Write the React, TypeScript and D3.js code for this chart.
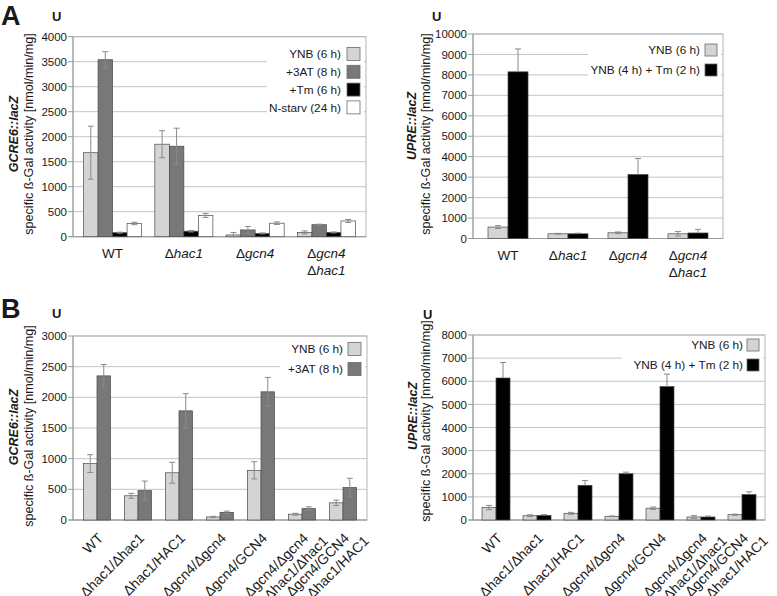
import React from "react";
import * as d3 from "d3";

const FONT = "'Liberation Sans', Arial, sans-serif";

// ---------- DATA ----------
const panelACategories = [["WT"], ["Δhac1"], ["Δgcn4"], ["Δgcn4", "Δhac1"]];
const panelBCategories = [
  ["WT"],
  ["Δhac1/Δhac1"],
  ["Δhac1/HAC1"],
  ["Δgcn4/Δgcn4"],
  ["Δgcn4/GCN4"],
  ["Δgcn4/Δgcn4", "Δhac1/Δhac1"],
  ["Δgcn4/GCN4", "Δhac1/HAC1"],
];

const aLeftSeries = ["YNB (6 h)", "+3AT (8 h)", "+Tm (6 h)", "N-starv (24 h)"];
const aLeftValues = [
  [1680, 1850, 35, 85],
  [3540, 1810, 135, 240],
  [80, 110, 65, 85],
  [265, 425, 270, 315],
];
const aLeftErrors = [
  [530, 270, 50, 30],
  [160, 360, 70, 10],
  [10, 15, 10, 10],
  [25, 40, 25, 30],
];
const aLeftTicks = [0, 500, 1000, 1500, 2000, 2500, 3000, 3500, 4000];

const aRightSeries = ["YNB (6 h)", "YNB (4 h) + Tm (2 h)"];
const aRightValues = [
  [560, 230, 280, 230],
  [8150, 230, 3130, 270],
];
const aRightErrors = [
  [70, 20, 40, 110],
  [1120, 30, 780, 180],
];
const aRightTicks = [0, 1000, 2000, 3000, 4000, 5000, 6000, 7000, 8000, 9000, 10000];

const bLeftSeries = ["YNB (6 h)", "+3AT (8 h)"];
const bLeftValues = [
  [920, 395, 770, 50, 810, 95, 280],
  [2350, 480, 1780, 125, 2090, 185, 530],
];
const bLeftErrors = [
  [145, 40, 170, 10, 140, 15, 45],
  [185, 155, 280, 20, 235, 30, 150],
];
const bLeftTicks = [0, 500, 1000, 1500, 2000, 2500, 3000];

const bRightSeries = ["YNB (6 h)", "YNB (4 h) + Tm (2 h)"];
const bRightValues = [
  [540, 185, 290, 160, 510, 130, 230],
  [6140, 200, 1500, 2000, 5770, 130, 1100],
];
const bRightErrors = [
  [90, 40, 40, 15, 50, 60, 25],
  [670, 30, 210, 70, 540, 40, 120],
];
const bRightTicks = [0, 1000, 2000, 3000, 4000, 5000, 6000, 7000, 8000];

// ---------- STYLE ----------
const C_LIGHT = "#d4d4d4";
const C_DARK = "#787878";
const C_BLACK = "#000000";
const C_WHITE = "#ffffff";
const TEXT = "#1a1a1a";

type PanelProps = {
  x0: number; x1: number; yTop: number; yBot: number;
  ticks: number[];
  categories: string[][];
  series: string[];
  values: number[][];
  errors: number[][];
  colors: string[];
  upOnly: boolean[];
  padInner: number; padOuter: number;
  legend: { bx: number; by: number; bw: number; bh: number; textEnd: number; swX: number; sw: number; rowY: number[] };
  title1: string; title2: string; t1x: number; t2x: number; t1y: number; t2y: number;
  ux: number; uy: number;
  rotated: boolean;
};

function CatLabel({ lines, cx, rotated, baseY }: { lines: string[]; cx: number; rotated: boolean; baseY: number }) {
  const renderLine = (s: string) => {
    if (!s.startsWith("Δ")) return s;
    return (
      <>
        <tspan>Δ</tspan>
        <tspan fontStyle="italic">{s.slice(1)}</tspan>
      </>
    );
  };
  if (!rotated) {
    return (
      <text textAnchor="middle" fontSize={13.5} fill={TEXT} fontFamily={FONT}>
        {lines.map((l, i) => (
          <tspan key={i} x={cx} y={baseY + i * 17}>
            {renderLine(l)}
          </tspan>
        ))}
      </text>
    );
  }
  return (
    <text
      transform={`translate(${cx + 7},${baseY}) rotate(-45)`}
      textAnchor="end"
      fontSize={14}
      fill={TEXT}
      fontFamily={FONT}
    >
      {lines.map((l, i) => (
        <tspan key={i} x={i * 12} y={i * 16}>
          {l}
        </tspan>
      ))}
    </text>
  );
}

function Panel(p: PanelProps) {
  const max = p.ticks[p.ticks.length - 1];
  const y = d3.scaleLinear().domain([0, max]).range([p.yBot, p.yTop]);
  const idx = p.categories.map((_, i) => String(i));
  const x = d3.scaleBand().domain(idx).range([p.x0, p.x1]).paddingInner(p.padInner).paddingOuter(p.padOuter);
  const xs = d3.scaleBand().domain(p.series.map((_, i) => String(i))).range([0, x.bandwidth()]).padding(0);
  return (
    <g fontFamily={FONT}>
      {p.ticks.map((t) => (
        <line key={"g" + t} x1={p.x0} x2={p.x1} y1={y(t)} y2={y(t)} stroke="#c4c4c4" strokeWidth={1} />
      ))}
      <rect x={p.legend.bx} y={p.legend.by} width={p.legend.bw} height={p.legend.bh} fill="#fff" />
      <rect x={p.x0} y={p.yTop} width={p.x1 - p.x0} height={p.yBot - p.yTop} fill="none" stroke="#b4b4b4" strokeWidth={1} />
      <line x1={p.x0} x2={p.x0} y1={p.yTop} y2={p.yBot} stroke="#9a9a9a" />
      <line x1={p.x0 - 4} x2={p.x1} y1={p.yBot} y2={p.yBot} stroke="#9a9a9a" />
      {p.ticks.map((t) => (
        <g key={"t" + t}>
          <line x1={p.x0 - 5} x2={p.x0} y1={y(t)} y2={y(t)} stroke="#9a9a9a" />
          <text x={p.x0 - 6} y={y(t)} dy="0.36em" textAnchor="end" fontSize={11.5} fill={TEXT}>
            {t}
          </text>
        </g>
      ))}
      {p.values.map((vals, s) =>
        vals.map((v, c) => {
          const bx = (x(String(c)) as number) + (xs(String(s)) as number);
          return (
            <rect key={`b${s}-${c}`} x={bx} y={y(v)} width={xs.bandwidth()} height={p.yBot - y(v)} fill={p.colors[s]} stroke="#4a4a4a" strokeWidth={0.7} />
          );
        })
      )}
      {p.values.map((vals, s) =>
        vals.map((v, c) => {
          const cx = (x(String(c)) as number) + (xs(String(s)) as number) + xs.bandwidth() / 2;
          const e = p.errors[s][c];
          const top = y(v + e);
          const bot = p.upOnly[s] ? y(v) : y(Math.max(0, v - e));
          return (
            <g key={`e${s}-${c}`} stroke="#8a8a8a" strokeWidth={1}>
              <line x1={cx} x2={cx} y1={top} y2={bot} />
              <line x1={cx - 3} x2={cx + 3} y1={top} y2={top} />
              {!p.upOnly[s] && <line x1={cx - 3} x2={cx + 3} y1={bot} y2={bot} />}
            </g>
          );
        })
      )}
      {p.categories.map((lines, i) => (
        <CatLabel key={"c" + i} lines={lines} cx={(x(String(i)) as number) + x.bandwidth() / 2} rotated={p.rotated} baseY={p.rotated ? p.yBot + 19 : p.yBot + 21} />
      ))}
      {p.series.map((s, i) => (
        <g key={"l" + i}>
          <text x={p.legend.textEnd} y={p.legend.rowY[i]} dy="0.36em" textAnchor="end" fontSize={11.8} fill={TEXT}>
            {s}
          </text>
          <rect x={p.legend.swX} y={p.legend.rowY[i] - p.legend.sw / 2} width={p.legend.sw} height={p.legend.sw} fill={p.colors[i]} stroke="#6a6a6a" strokeWidth={0.8} />
        </g>
      ))}
      <text transform={`translate(${p.t1x},${p.t1y}) rotate(-90)`} textAnchor="middle" fontSize={12.5} fontWeight="bold" fontStyle="italic" fill={TEXT}>
        {p.title1}
      </text>
      <text transform={`translate(${p.t2x},${p.t2y}) rotate(-90)`} textAnchor="middle" fontSize={12.6} fill={TEXT}>
        {p.title2}
      </text>
      <text x={p.ux} y={p.uy} fontSize={13} fontWeight="bold" fill={TEXT}>
        U
      </text>
    </g>
  );
}

export default function App() {
  return (
    <svg width={777} height={596} style={{ position: "absolute", left: 0, top: 0, background: "#fff" }}>
      <rect width={777} height={596} fill="#fff" />
      <text x={1} y={25} fontFamily={FONT} fontSize={27} fontWeight="bold" fill={TEXT}>A</text>
      <text x={1} y={318} fontFamily={FONT} fontSize={27} fontWeight="bold" fill={TEXT}>B</text>
      <Panel
        x0={73} x1={366} yTop={36.7} yBot={236.7}
        ticks={aLeftTicks}
        categories={panelACategories}
        series={aLeftSeries}
        values={aLeftValues}
        errors={aLeftErrors}
        colors={[C_LIGHT, C_DARK, C_BLACK, C_WHITE]}
        upOnly={[false, false, false, false]}
        padInner={0.186} padOuter={0.148}
        legend={{ bx: 267, by: 40, bw: 97, bh: 80, textEnd: 341, swX: 347, sw: 13, rowY: [54, 71.8, 89.6, 107.4] }}
        title1="GCRE6::lacZ" title2="specific ß-Gal activity [nmol/min/mg]" t1x={18} t2x={33} t1y={134} t2y={134}
        ux={52} uy={21}
        rotated={false}
      />
      <Panel
        x0={473} x1={723} yTop={34} yBot={238.5}
        ticks={aRightTicks}
        categories={panelACategories}
        series={aRightSeries}
        values={aRightValues}
        errors={aRightErrors}
        colors={[C_LIGHT, C_BLACK]}
        upOnly={[false, true]}
        padInner={0.333} padOuter={0.25}
        legend={{ bx: 588, by: 37, bw: 133, bh: 45, textEnd: 700, swX: 705, sw: 12, rowY: [50, 70] }}
        title1="UPRE::lacZ" title2="specific ß-Gal activity [nmol/min/mg]" t1x={416} t2x={430} t1y={126} t2y={134}
        ux={432} uy={21}
        rotated={false}
      />
      <Panel
        x0={73} x1={367} yTop={336} yBot={520}
        ticks={bLeftTicks}
        categories={panelBCategories}
        series={bLeftSeries}
        values={bLeftValues}
        errors={bLeftErrors}
        colors={[C_LIGHT, C_DARK]}
        upOnly={[false, false]}
        padInner={0.34} padOuter={0.255}
        legend={{ bx: 280, by: 338, bw: 85, bh: 42, textEnd: 343, swX: 348, sw: 13, rowY: [349, 369] }}
        title1="GCRE6::lacZ" title2="specific ß-Gal activity [nmol/min/mg]" t1x={18} t2x={33} t1y={427} t2y={426}
        ux={52} uy={318}
        rotated={true}
      />
      <Panel
        x0={473} x1={765} yTop={335} yBot={520}
        ticks={bRightTicks}
        categories={panelBCategories}
        series={bRightSeries}
        values={bRightValues}
        errors={bRightErrors}
        colors={[C_LIGHT, C_BLACK]}
        upOnly={[false, true]}
        padInner={0.317} padOuter={0.22}
        legend={{ bx: 622, by: 337, bw: 141, bh: 40, textEnd: 743, swX: 747, sw: 12, rowY: [345, 365] }}
        title1="UPRE::lacZ" title2="specific ß-Gal activity [nmol/min/mg]" t1x={417} t2x={430} t1y={416} t2y={421}
        ux={423} uy={319}
        rotated={true}
      />
    </svg>
  );
}
